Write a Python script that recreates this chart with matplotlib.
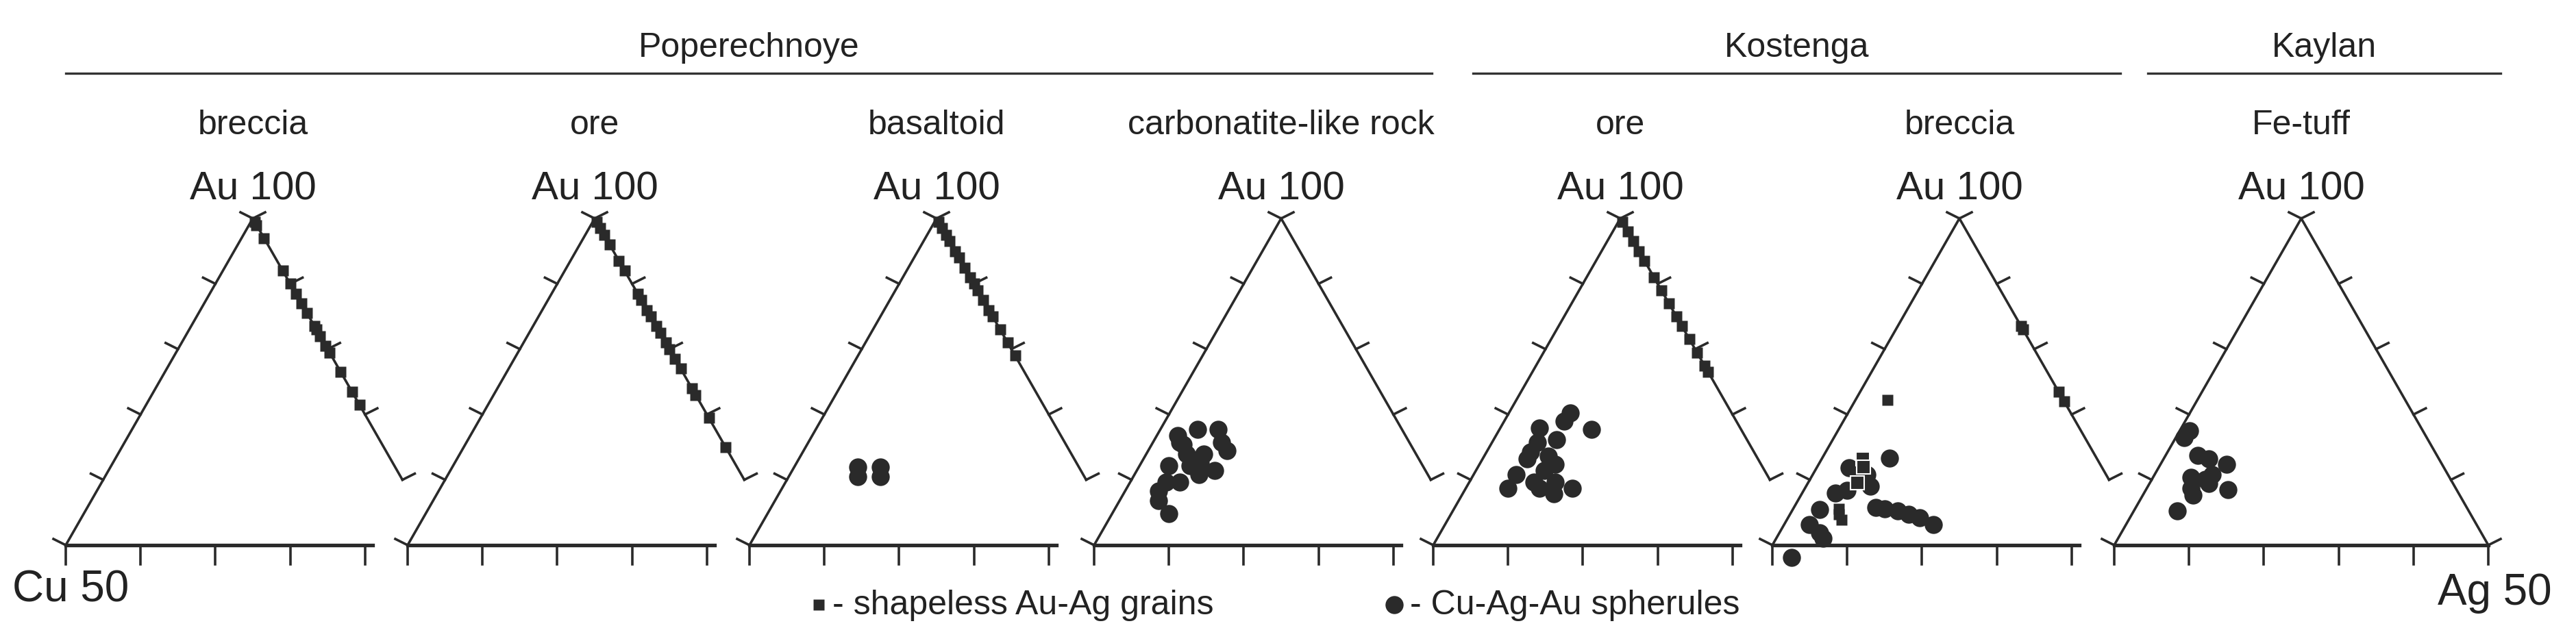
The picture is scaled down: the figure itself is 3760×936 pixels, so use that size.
import numpy as np
import matplotlib.pyplot as plt

plt.rcParams['font.family'] = ['Liberation Sans Narrow', 'Liberation Sans', 'DejaVu Sans']

# ---- data: fractions in each triangle (au = Au apex, ag = Ag corner, cu = rest) ----
groups = ["Poperechnoye", "Kostenga", "Kaylan"]
titles = ["breccia", "ore", "basaltoid", "carbonatite-like rock", "ore", "breccia", "Fe-tuff"]

# squares on the Au-Ag side (cu = 0), given as Au fraction
sq_edge_au = [
    [0.99, 0.98, 0.94, 0.84, 0.80, 0.77, 0.74, 0.71, 0.67, 0.66, 0.64, 0.61, 0.59, 0.53, 0.47, 0.43],
    [0.99, 0.97, 0.95, 0.92, 0.87, 0.84, 0.77, 0.75, 0.72, 0.70, 0.67, 0.65, 0.62, 0.60, 0.57,
     0.54, 0.48, 0.46, 0.39, 0.30],
    [0.99, 0.97, 0.95, 0.93, 0.90, 0.88, 0.85, 0.82, 0.80, 0.78, 0.75, 0.72, 0.70, 0.66, 0.62, 0.58],
    [],
    [0.99, 0.96, 0.93, 0.90, 0.87, 0.82, 0.78, 0.74, 0.70, 0.67, 0.63, 0.59, 0.55, 0.53],
    [0.67, 0.66, 0.47, 0.44],
    [],
]

# interior squares (breccia, Kostenga)
sq_in_au = [0.444, 0.111, 0.078, 0.095]
sq_in_ag = [0.086, 0.122, 0.146, 0.130]
sq_open_au = [0.264, 0.240, 0.191]
sq_open_ag = [0.109, 0.123, 0.132]

# circles
circ_au = [
    [], [],
    [0.24, 0.24, 0.21, 0.21],
    [0.336, 0.354, 0.354, 0.315, 0.315, 0.290, 0.279, 0.279, 0.243, 0.251, 0.229, 0.215, 0.193,
     0.193, 0.165, 0.136, 0.097, 0.243, 0.308],
    [0.404, 0.379, 0.354, 0.358, 0.322, 0.315, 0.265, 0.247, 0.215, 0.229, 0.193, 0.193, 0.175,
     0.175, 0.157, 0.175, 0.286, 0.272],
    [-0.038, 0.063, 0.038, 0.021, 0.108, 0.160, 0.167, 0.236, 0.215, 0.181, 0.267, 0.115, 0.111,
     0.104, 0.094, 0.083, 0.063, 0.201],
    [0.351, 0.330, 0.274, 0.264, 0.247, 0.208, 0.201, 0.174, 0.188, 0.170, 0.153, 0.104, 0.215],
]
circ_ag = [
    [], [],
    [0.17, 0.23, 0.185, 0.245],
    [0.056, 0.099, 0.155, 0.071, 0.183, 0.210, 0.108, 0.154, 0.079, 0.159, 0.207, 0.172, 0.132,
     0.095, 0.090, 0.105, 0.152, 0.135, 0.084],
    [0.165, 0.160, 0.246, 0.104, 0.169, 0.121, 0.118, 0.202, 0.115, 0.183, 0.173, 0.229, 0.112,
     0.196, 0.243, 0.285, 0.117, 0.171],
    [0.070, 0.067, 0.107, 0.125, 0.072, 0.088, 0.117, 0.088, 0.145, 0.171, 0.180, 0.219, 0.244,
     0.284, 0.317, 0.352, 0.399, 0.134],
    [0.026, 0.022, 0.087, 0.120, 0.176, 0.102, 0.143, 0.119, 0.158, 0.219, 0.134, 0.116, 0.155],
]

# ---- layout (pixel space of the figure) ----
W, H = 3760, 937
x0s = [96, 595, 1094, 1597, 2092, 2587, 3086]
tw, base, top = 546, 797, 320
th = base - top
lc = '#2a2a2a'
lw = 2.6
fs = 36

fig = plt.figure(figsize=(W / 100, H / 100), dpi=100)
ax = fig.add_axes([0, 0, 1, 1])
ax.set_xlim(0, W)
ax.set_ylim(H, 0)
ax.axis('off')


def pos(x0, au, ag):
    au = np.asarray(au, float)
    ag = np.asarray(ag, float)
    return x0 + (ag + au / 2) * tw, base - au * th


for i, x0 in enumerate(x0s):
    last = i == len(x0s) - 1
    apex = (x0 + tw / 2, top)
    # left edge
    ax.plot([x0, apex[0]], [base, top], color=lc, lw=lw)
    # right edge (cut short except last)
    au_end = 0.0 if last else 0.2
    ex, ey = pos(x0, au_end, 1 - au_end)
    ax.plot([apex[0], ex], [top, ey], color=lc, lw=lw)
    # base
    bx_end = 1.0 if last else 0.82
    ax.plot([x0, x0 + bx_end * tw], [base, base], color=lc, lw=lw + 1.2)
    # bottom ticks
    nt = 6 if last else 5
    for k in range(nt):
        bx = x0 + 0.2 * k * tw
        ax.plot([bx, bx], [base, base + 28], color=lc, lw=lw)
    # side ticks
    for f in [0.0, 0.2, 0.4, 0.6, 0.8, 1.0]:
        lx, ly = pos(x0, f, 0)
        ax.plot([lx, lx - 18], [ly, ly - 9], color=lc, lw=lw)
        if f >= au_end:
            rx, ry = pos(x0, f, 1 - f)
            ax.plot([rx, rx + 18], [ry, ry - 9], color=lc, lw=lw)
    # labels
    ax.text(apex[0], top - 16, "Au 100", ha='center', va='bottom', fontsize=42, color='#222')
    ax.text(apex[0], 183, titles[i], ha='center', va='center', fontsize=fs, color='#222')

    # points
    if sq_edge_au[i]:
        a = np.array(sq_edge_au[i])
        px, py = pos(x0, a, 1 - a)
        ax.plot(px, py, 's', color=lc, ms=11, mec='none')
    if circ_au[i]:
        px, py = pos(x0, circ_au[i], circ_ag[i])
        ax.plot(px, py, 'o', color=lc, ms=19, mec='none', clip_on=False)

# interior squares, Kostenga breccia
px, py = pos(x0s[5], sq_in_au, sq_in_ag)
ax.plot(px, py, 's', color=lc, ms=12, mec='none')
px, py = pos(x0s[5], sq_open_au, sq_open_ag)
ax.plot(px, py, 's', color=lc, ms=14, mec='white', mew=1.5)

# group headers
hdr = [(96, 2090), (2150, 3095), (3135, 3650)]
for name, (a, b) in zip(groups, hdr):
    ax.plot([a, b], [108, 108], color='#333', lw=2.4)
    ax.text((a + b) / 2, 70, name, ha='center', va='center', fontsize=fs, color='#222')

ax.text(18, 862, "Cu 50", ha='left', va='center', fontsize=46, color='#222')
ax.text(3725, 866, "Ag 50", ha='right', va='center', fontsize=46, color='#222')

# legend
ax.plot([1195], [884], 's', color=lc, ms=11, mec='none')
ax.text(1215, 884, "- shapeless Au-Ag grains", ha='left', va='center', fontsize=fs, color='#222')
ax.plot([2035], [884], 'o', color=lc, ms=19, mec='none')
ax.text(2058, 884, "- Cu-Ag-Au spherules", ha='left', va='center', fontsize=fs, color='#222')

plt.savefig("out.png", dpi=100)
